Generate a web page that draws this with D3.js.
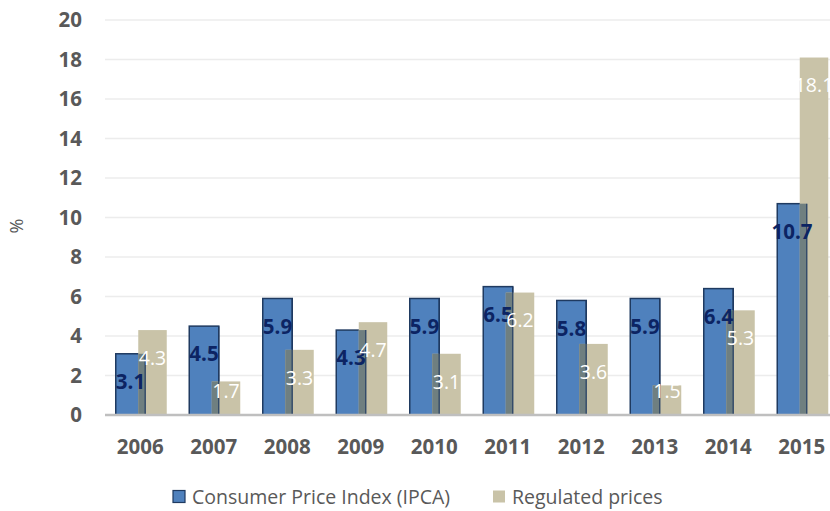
<!DOCTYPE html>
<html>
<head>
<meta charset="utf-8">
<script src="https://cdn.jsdelivr.net/npm/d3@7"></script>
<style>
  html, body { margin: 0; padding: 0; background: #fff; }
  svg { display: block; font-family: "Open Sans", sans-serif; }
</style>
</head>
<body>
<svg id="chart" width="830" height="511"></svg>
<script>
// Inflation by year: IPCA and regulated prices (% per year)
const years = ["2006","2007","2008","2009","2010","2011","2012","2013","2014","2015"];
const ipca = [3.1, 4.5, 5.9, 4.3, 5.9, 6.5, 5.8, 5.9, 6.4, 10.7];
const regulated = [4.3, 1.7, 3.3, 4.7, 3.1, 6.2, 3.6, 1.5, 5.3, 18.1];
const yTicks = [0, 2, 4, 6, 8, 10, 12, 14, 16, 18, 20];
const seriesNames = ["Consumer Price Index (IPCA)", "Regulated prices"];

const svg = d3.select("#chart");
const W = 830, H = 511;

const x = d3.scaleBand().domain(years).range([104.5, 839.5]).padding(0);
const y = d3.scaleLinear().domain([0, 20]).range([415, 20]);

const blueFill = "#4f81bd", blueStroke = "#1f3a60";
const beigeFill = "#c9c3a8", overlapFill = "#6f7f80";
const gridColor = "#ececec", axisColor = "#bfbfbf", textColor = "#595959";

// horizontal gridlines
svg.append("g").selectAll("line").data(yTicks.filter(d => d > 0)).join("line")
  .attr("x1", 105).attr("x2", W)
  .attr("y1", d => y(d)).attr("y2", d => y(d))
  .attr("stroke", gridColor).attr("stroke-width", 1.5);

// y axis tick labels
const yAxis = d3.axisLeft(y).tickValues(yTicks).tickSize(0).tickPadding(0);
const gy = svg.append("g").attr("transform", "translate(82,0)").call(yAxis);
gy.select(".domain").remove();
gy.selectAll("text")
  .attr("fill", textColor).attr("font-size", 20.5).attr("font-weight", 700)
  .attr("font-family", "Open Sans, sans-serif");

// y axis title
svg.append("text")
  .attr("transform", "translate(23,226) rotate(-90)")
  .attr("text-anchor", "middle")
  .attr("fill", textColor).attr("font-size", 18)
  .text("%");

const center = d => x(d) + x.bandwidth() / 2;
const blueL = d => center(d) - 25.5, blueR = d => center(d) + 4;
const beigeL = d => center(d) - 3, beigeR = d => center(d) + 25.5;

const rows = years.map((yr, i) => ({ yr, a: ipca[i], b: regulated[i] }));

// IPCA bars
svg.append("g").selectAll("rect").data(rows).join("rect")
  .attr("x", d => blueL(d.yr)).attr("width", d => blueR(d.yr) - blueL(d.yr))
  .attr("y", d => y(d.a)).attr("height", d => y(0) - y(d.a))
  .attr("fill", blueFill).attr("stroke", blueStroke).attr("stroke-width", 1.5);

// regulated prices bars
svg.append("g").selectAll("rect").data(rows).join("rect")
  .attr("x", d => beigeL(d.yr)).attr("width", d => beigeR(d.yr) - beigeL(d.yr))
  .attr("y", d => y(d.b)).attr("height", d => y(0) - y(d.b))
  .attr("fill", beigeFill);

// shaded area where the two bars overlap
svg.append("g").selectAll("rect").data(rows).join("rect")
  .attr("x", d => beigeL(d.yr)).attr("width", d => blueR(d.yr) - beigeL(d.yr))
  .attr("y", d => y(Math.min(d.a, d.b))).attr("height", d => y(0) - y(Math.min(d.a, d.b)))
  .attr("fill", overlapFill);

// blue outline edge drawn over the overlap
svg.append("g").selectAll("line").data(rows).join("line")
  .attr("x1", d => blueR(d.yr)).attr("x2", d => blueR(d.yr))
  .attr("y1", d => y(d.a)).attr("y2", y(0))
  .attr("stroke", blueStroke).attr("stroke-width", 1.5).attr("stroke-opacity", 0.8);

// x axis baseline
svg.append("line").attr("x1", 105).attr("x2", W).attr("y1", y(0)).attr("y2", y(0))
  .attr("stroke", axisColor).attr("stroke-width", 2.5);

// x axis labels
const xAxis = d3.axisBottom(x).tickSize(0).tickPadding(0);
const gx = svg.append("g").attr("transform", "translate(-1,0)").call(xAxis);
gx.select(".domain").remove();
gx.selectAll("text")
  .attr("y", 454).attr("dy", 0)
  .attr("fill", textColor).attr("font-size", 20.5).attr("font-weight", 700)
  .attr("font-family", "Open Sans, sans-serif");

const labelY = v => Math.min(y(v) + 28, y(0) - 24);

// value labels
svg.append("g").selectAll("text").data(rows).join("text")
  .attr("x", d => (blueL(d.yr) + blueR(d.yr)) / 2)
  .attr("y", d => labelY(d.a)).attr("dy", "0.35em")
  .attr("text-anchor", "middle").attr("fill", "#0c2463")
  .attr("font-size", 20.5).attr("font-weight", 700)
  .text(d => d.a.toFixed(1));

svg.append("g").selectAll("text").data(rows).join("text")
  .attr("x", d => (beigeL(d.yr) + beigeR(d.yr)) / 2)
  .attr("y", d => labelY(d.b)).attr("dy", "0.35em")
  .attr("text-anchor", "middle").attr("fill", "#ffffff")
  .attr("font-size", 19.5)
  .text(d => d.b.toFixed(1));

// legend
const legend = svg.append("g");
const legendItems = [
  { name: seriesNames[0], x: 173, fill: blueFill, stroke: blueStroke },
  { name: seriesNames[1], x: 493, fill: beigeFill, stroke: "none" }
];
legendItems.forEach(it => {
  legend.append("rect").attr("x", it.x).attr("y", 490.5).attr("width", 12).attr("height", 12)
    .attr("fill", it.fill).attr("stroke", it.stroke).attr("stroke-width", 1.2);
  legend.append("text").attr("x", it.x + 19).attr("y", 497).attr("dy", "0.35em")
    .attr("fill", textColor).attr("font-size", 19.5).text(it.name);
});
</script>
</body>
</html>
